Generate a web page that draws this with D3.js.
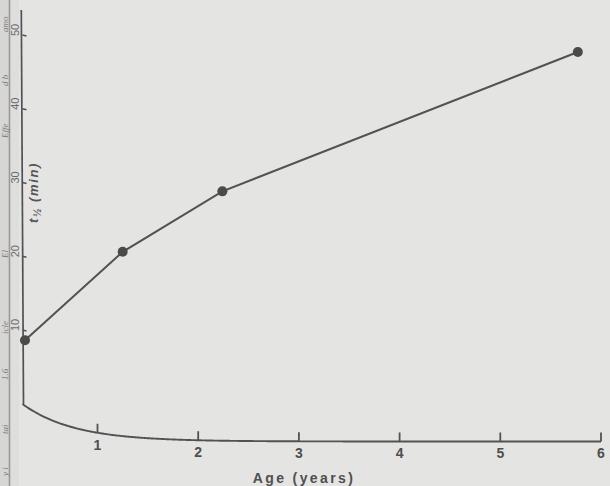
<!DOCTYPE html>
<html>
<head>
<meta charset="utf-8">
<script src="https://cdn.jsdelivr.net/npm/d3@7/dist/d3.min.js"></script>
<style>
  html, body { margin: 0; padding: 0; background: #e4e4e2; }
  svg { display: block; }
</style>
</head>
<body>
<script>
// Half-life of elimination versus age
const ages = [0.28, 1.25, 2.24, 5.77];        // years
const halfLives = [8.6, 20.6, 28.8, 47.7];     // t1/2, minutes
const xTickValues = [1, 2, 3, 4, 5, 6];
const yTickValues = [10, 20, 30, 40, 50];
const xTitle = "Age (years)";
// fragments of the facing page visible in the binding
const gutterWords = ["amo", "d b", "Effe", "El", "icle", "1.6", "tai", "y i"];

const W = 610, H = 486;
const ink = "#525252";

const svg = d3.select("body").append("svg")
  .attr("width", W).attr("height", H);

svg.append("rect").attr("width", W).attr("height", H).attr("fill", "#e4e4e2");

// ---- binding gutter ----
const gut = svg.append("g");
gut.append("rect").attr("x", 0).attr("y", 0).attr("width", 9).attr("height", H).attr("fill", "#d6d6d4");
gut.append("rect").attr("x", 10).attr("y", 0).attr("width", 9).attr("height", H).attr("fill", "#dededc");
gut.append("line").attr("x1", 9.5).attr("x2", 9.5).attr("y1", 0).attr("y2", H)
  .attr("stroke", "#9a9a98").attr("stroke-width", 1.6);
const gutterY = [32, 86, 138, 258, 334, 380, 434, 476];
gut.append("g")
  .selectAll("text").data(gutterWords).join("text")
  .attr("transform", (d, i) => `translate(8,${gutterY[i]}) rotate(-90)`)
  .attr("font-family", "Liberation Serif, serif")
  .attr("font-style", "italic")
  .attr("font-size", 9)
  .attr("fill", "#7a7a78")
  .text(d => d);

// ---- scales ----
const x = d3.scaleLinear().domain([1, 6]).range([97.5, 601]);
const y = d3.scaleLinear().domain([10, 50]).range([330, 35]);

// axis frame
const axisX = 22.5;
const axisTop = 10;
const axisBottom = 404;
const baseY = 441.5;

// curved corner joining the broken y axis to the age axis, running on as the baseline
const cornerY = px => baseY - (baseY - axisBottom) * Math.exp(-0.0194 * (px - axisX));
const cornerPts = d3.range(axisX, x(6), 2).map(px => [px, cornerY(px)]).concat([[x(6), baseY]]);

svg.append("line")
  .attr("x1", axisX - 1.2).attr("x2", axisX + 1)
  .attr("y1", axisTop).attr("y2", axisBottom)
  .attr("stroke", ink).attr("stroke-width", 1.7);

svg.append("path")
  .attr("d", d3.line().curve(d3.curveBasis)(cornerPts))
  .attr("fill", "none").attr("stroke", ink).attr("stroke-width", 1.9);

// ---- x ticks (sit on the curved baseline) ----
const xt = svg.append("g");
xt.selectAll("line").data(xTickValues).join("line")
  .attr("x1", d => x(d)).attr("x2", d => x(d))
  .attr("y1", d => cornerY(x(d)) - 9).attr("y2", d => cornerY(x(d)))
  .attr("stroke", ink).attr("stroke-width", 1.8);
xt.selectAll("text").data(xTickValues).join("text")
  .attr("x", d => x(d)).attr("y", d => cornerY(x(d)) + 17)
  .attr("text-anchor", "middle")
  .attr("font-family", "Liberation Sans, Arial, sans-serif")
  .attr("font-weight", "bold")
  .attr("font-size", 14)
  .attr("fill", "#4f4f4f")
  .text(d => d);

svg.append("text")
  .attr("x", 304).attr("y", 482.5)
  .attr("text-anchor", "middle")
  .attr("font-family", "Liberation Sans, Arial, sans-serif")
  .attr("font-weight", "bold")
  .attr("font-size", 14)
  .attr("letter-spacing", 2.4)
  .attr("fill", "#4f4f4f")
  .text(xTitle);

// ---- y ticks ----
const yt = svg.append("g");
yt.selectAll("line").data(yTickValues).join("line")
  .attr("x1", axisX).attr("x2", axisX + 4)
  .attr("y1", d => y(d)).attr("y2", d => y(d) + 1)
  .attr("stroke", ink).attr("stroke-width", 1.3);
yt.selectAll("text").data(yTickValues).join("text")
  .attr("transform", d => `translate(18.5,${y(d) + 1}) rotate(-90)`)
  .attr("text-anchor", "start")
  .attr("font-family", "Liberation Sans, Arial, sans-serif")
  .attr("font-size", 11)
  .attr("fill", "#6a6a6a")
  .text(d => d);

// y title: t½ (min)
const yTitle = svg.append("text")
  .attr("transform", "translate(37.5,223) rotate(-90)")
  .attr("font-family", "Liberation Sans, Arial, sans-serif")
  .attr("font-style", "italic")
  .attr("font-weight", "bold")
  .attr("font-size", 13)
  .attr("letter-spacing", 1.6)
  .attr("fill", "#555555");
yTitle.append("tspan").text("t");
yTitle.append("tspan").attr("font-size", 10).attr("dy", 3).text("½");
yTitle.append("tspan").attr("dy", -3).text(" (min)");

// ---- data line and points ----
const pts = ages.map((a, i) => [x(a), y(halfLives[i])]);
svg.append("path")
  .attr("d", d3.line()(pts))
  .attr("fill", "none").attr("stroke", ink).attr("stroke-width", 2);

svg.selectAll("circle.pt").data(pts).join("circle")
  .attr("class", "pt")
  .attr("cx", d => d[0]).attr("cy", d => d[1])
  .attr("r", 5)
  .attr("fill", "#4a4a4a");
</script>
</body>
</html>
